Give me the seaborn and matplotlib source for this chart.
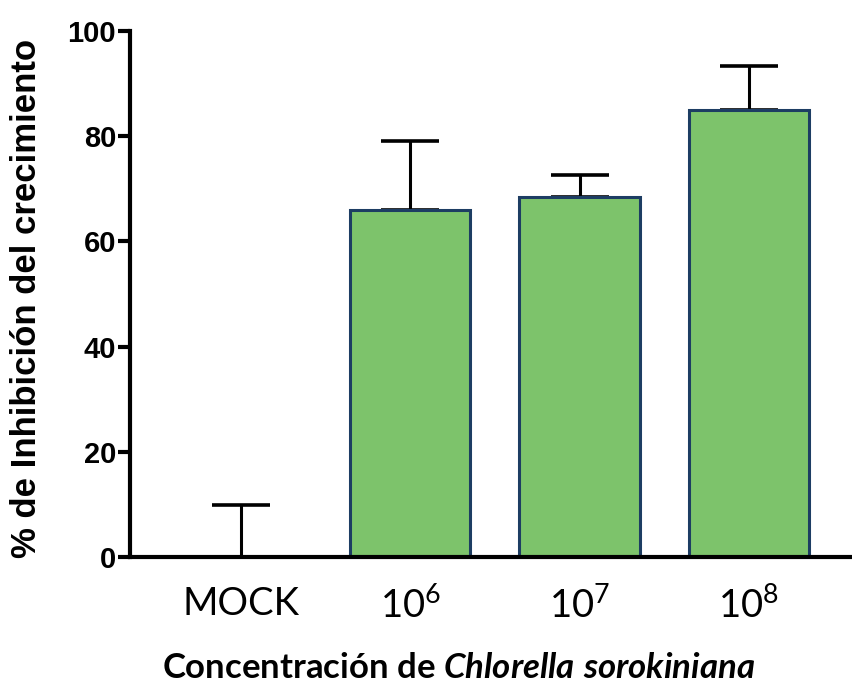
#!/usr/bin/env python3

import pandas as pd
import seaborn as sns
import matplotlib.pyplot as plt

# values
groups = ['MOCK', '10$^{6}$', '10$^{7}$', '10$^{8}$']
inhibition = [0.0, 66.0, 68.4, 85.0]
err_upper = [9.9, 13.1, 4.2, 8.3]
y_ticks = [0, 20, 40, 60, 80, 100]

BAR_FILL = '#7dc36b'
BAR_EDGE = '#1d3d63'


def generate_image():
    sns.set_style('ticks')
    plt.rcParams['mathtext.fontset'] = 'custom'
    plt.rcParams['mathtext.rm'] = 'Lato'
    plt.rcParams['mathtext.it'] = 'Lato:italic:bold'
    plt.rcParams['font.family'] = ['Liberation Sans', 'DejaVu Sans']
    plt.rcParams['text.color'] = 'black'
    plt.rcParams['xtick.color'] = 'black'
    plt.rcParams['ytick.color'] = 'black'
    plt.rcParams['axes.edgecolor'] = 'black'

    df = pd.DataFrame({'grupo': groups, 'inhibicion': inhibition})

    f = plt.figure(figsize=(8.52, 6.88), dpi=100)
    ax = f.add_axes([130 / 852, 131 / 688, 722 / 852, 526 / 688])

    sns.barplot(x='grupo', y='inhibicion', data=df, ax=ax, color=BAR_FILL,
                saturation=1, width=0.71, edgecolor=BAR_EDGE, linewidth=2.2,
                errorbar=None)
    ax.errorbar(range(len(groups)), inhibition,
                yerr=[[0] * len(groups), err_upper], fmt='none',
                ecolor='black', elinewidth=2.2, capsize=21, capthick=2.6,
                zorder=0)

    ax.set_xlim(-0.656, 3.61)
    ax.set_ylim(0, 100)
    ax.set_yticks(y_ticks)
    ax.set_yticklabels([str(t) for t in y_ticks],
                       family=['Liberation Sans Narrow', 'Liberation Sans'],
                       fontweight='bold', fontsize=21)
    ax.set_xticks(range(len(groups)))
    ax.set_xticklabels(groups, family='Lato', fontsize=27.5)

    for s in ['top', 'right']:
        ax.spines[s].set_visible(False)
    for s in ['left', 'bottom']:
        ax.spines[s].set_linewidth(3)
    ax.tick_params(axis='y', length=9, width=3, pad=1, direction='out')
    ax.tick_params(axis='x', length=0, pad=21)

    ax.set_xlabel('')
    ax.set_ylabel('')
    f.text(27 / 852, 1 - 298 / 688, '% de Inhibición del crecimiento',
           rotation=90, ha='center', va='center', fontsize=25,
           fontweight='bold')
    f.text(459 / 852, 1 - 668 / 688,
           r'Concentración de $\mathit{Chlorella\ sorokiniana}$',
           ha='center', va='center', family='Lato', fontweight='bold',
           fontsize=25)

    f.savefig('out.png', dpi=100)
    plt.clf()


if __name__ == "__main__":
    generate_image()
